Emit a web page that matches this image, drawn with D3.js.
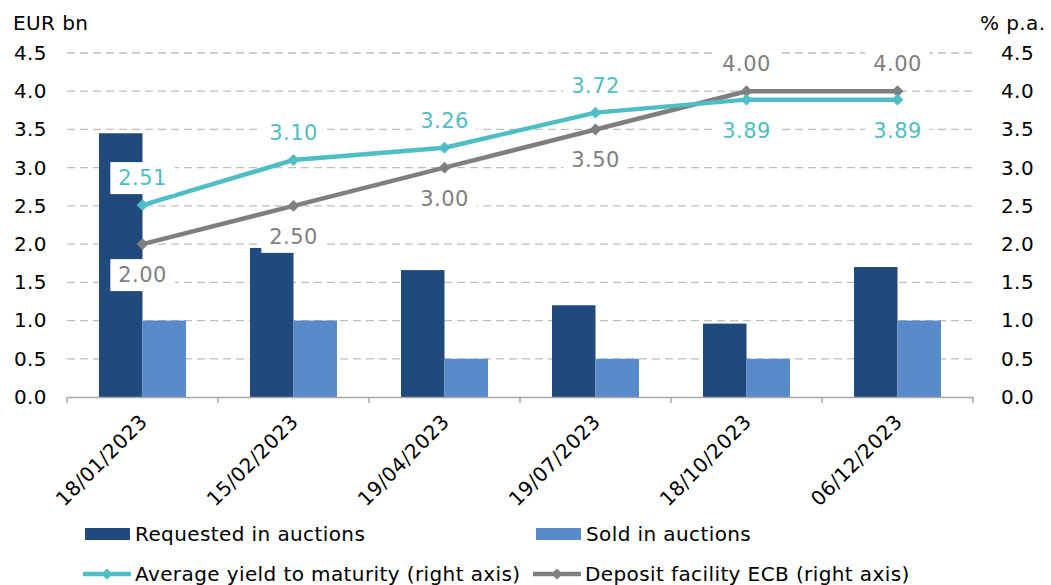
<!DOCTYPE html>
<html>
<head>
<meta charset="utf-8">
<script src="https://cdn.jsdelivr.net/npm/d3@7"></script>
<style>
  body { margin: 0; background: #fff; }
  svg { font-family: Verdana, "DejaVu Sans", sans-serif; letter-spacing: 0.4px; }
</style>
</head>
<body>
<svg id="chart" width="1051" height="585"></svg>
<script>
// data
const dates = ['18/01/2023', '15/02/2023', '19/04/2023', '19/07/2023', '18/10/2023', '06/12/2023'];
const requested = [3.45, 1.95, 1.66, 1.20, 0.96, 1.70];
const sold = [1.0, 1.0, 0.5, 0.5, 0.5, 1.0];
const avgYield = [2.51, 3.10, 3.26, 3.72, 3.89, 3.89];
const depositRate = [2.00, 2.50, 3.00, 3.50, 4.00, 4.00];
const yTicks = [0, 0.5, 1, 1.5, 2, 2.5, 3, 3.5, 4, 4.5];

const colReq = '#214a7c';
const colSold = '#598bca';
const colYield = '#4fbdc4';
const colDep = '#7f7f7f';
const fs = 20;

const svg = d3.select('#chart');
const plotL = 67, plotR = 973, plotT = 53, plotB = 397;

const x = d3.scaleBand().domain(dates).range([plotL, plotR]).padding(0);
const yL = d3.scaleLinear().domain([0, 4.5]).range([plotB, plotT]);
const yR = d3.scaleLinear().domain([0, 4.5]).range([plotB, plotT]);

const barW = x.bandwidth() * 0.288;
const cx = (d) => x(d) + x.bandwidth() / 2;

// gridlines
svg.append('g')
    .selectAll('line')
    .data(yTicks.filter((t) => t > 0))
    .enter()
    .append('line')
    .attr('x1', plotL)
    .attr('x2', plotR)
    .attr('y1', (d) => yL(d))
    .attr('y2', (d) => yL(d))
    .attr('stroke', '#bfbfbf')
    .attr('stroke-width', 1.3)
    .attr('stroke-dasharray', '8,5');

// bars
const bars = svg.append('g');
bars.selectAll('.req')
    .data(dates)
    .enter()
    .append('rect')
    .attr('x', (d) => cx(d) - barW)
    .attr('width', barW)
    .attr('y', (d, i) => yL(requested[i]))
    .attr('height', (d, i) => plotB - yL(requested[i]))
    .attr('fill', colReq);
bars.selectAll('.sold')
    .data(dates)
    .enter()
    .append('rect')
    .attr('x', (d) => cx(d))
    .attr('width', barW)
    .attr('y', (d, i) => yL(sold[i]))
    .attr('height', (d, i) => plotB - yL(sold[i]))
    .attr('fill', colSold);

// x axis line + ticks
const xAxis = svg.append('g').attr('transform', `translate(0, ${plotB})`)
    .call(d3.axisBottom(x).tickSize(0).tickFormat(''));
xAxis.select('.domain').attr('stroke', '#a6a6a6').attr('stroke-width', 1.5);
svg.append('g')
    .selectAll('line')
    .data(d3.range(dates.length + 1))
    .enter()
    .append('line')
    .attr('x1', (i) => plotL + i * x.step())
    .attr('x2', (i) => plotL + i * x.step())
    .attr('y1', plotB)
    .attr('y2', plotB + 6)
    .attr('stroke', '#a6a6a6')
    .attr('stroke-width', 1.5);

// x labels
svg.append('g')
    .selectAll('text')
    .data(dates)
    .enter()
    .append('text')
    .attr('transform', (d) => `translate(${cx(d) + 6}, ${plotB + 26}) rotate(-45)`)
    .attr('text-anchor', 'end')
    .attr('font-size', fs)
    .attr('fill', '#000')
    .text((d) => d);

// y axes
const axL = svg.append('g').attr('transform', `translate(${plotL}, 0)`)
    .call(d3.axisLeft(yL).tickValues(yTicks).tickFormat(d3.format('.1f')).tickSize(0).tickPadding(20));
const axR = svg.append('g').attr('transform', `translate(${plotR}, 0)`)
    .call(d3.axisRight(yR).tickValues(yTicks).tickFormat(d3.format('.1f')).tickSize(0).tickPadding(28));
[axL, axR].forEach((ax) => {
    ax.select('.domain').remove();
    ax.selectAll('text').attr('font-size', fs).attr('fill', '#000')
        .style('font-family', 'Verdana, "DejaVu Sans", sans-serif');
});

svg.append('text').attr('x', 13).attr('y', 30).attr('font-size', fs).text('EUR bn');
svg.append('text').attr('x', 980).attr('y', 30).attr('font-size', fs).text('% p.a.');

// lines
const line = d3.line().x((d) => d[0]).y((d) => d[1]);
function drawSeries(values, color) {
    const pts = dates.map((d, i) => [cx(d), yR(values[i])]);
    svg.append('path')
        .attr('d', line(pts))
        .attr('fill', 'none')
        .attr('stroke', color)
        .attr('stroke-width', 4.5)
        .attr('stroke-linejoin', 'round');
    svg.append('g')
        .selectAll('path')
        .data(pts)
        .enter()
        .append('path')
        .attr('d', d3.symbol().type(d3.symbolDiamond2).size(90))
        .attr('transform', (p) => `translate(${p[0]}, ${p[1]})`)
        .attr('fill', color);
}
drawSeries(depositRate, colDep);
drawSeries(avgYield, colYield);

// data labels with white boxes
function drawLabels(values, color, where) {
    const g = svg.append('g');
    dates.forEach((d, i) => {
        const px = cx(d);
        const py = yR(values[i]) + (where[i] === 'above' ? -27 : 31);
        const lg = g.append('g');
        const t = lg.append('text')
            .attr('x', px)
            .attr('y', py)
            .attr('text-anchor', 'middle')
            .attr('dominant-baseline', 'central')
            .attr('font-size', fs + 1)
            .attr('fill', color)
            .text(values[i].toFixed(2));
        const bb = t.node().getBBox();
        lg.insert('rect', 'text')
            .attr('x', bb.x - 8)
            .attr('y', py - 16)
            .attr('width', bb.width + 16)
            .attr('height', 32)
            .attr('fill', '#fff');
    });
}
drawLabels(avgYield, colYield, ['above', 'above', 'above', 'above', 'below', 'below']);
drawLabels(depositRate, colDep, ['below', 'below', 'below', 'below', 'above', 'above']);

// legend
const legend = svg.append('g');
const items = [
    { name: 'Requested in auctions', color: colReq, type: 'bar', x: 85, y: 534 },
    { name: 'Sold in auctions', color: colSold, type: 'bar', x: 536, y: 534 },
    { name: 'Average yield to maturity (right axis)', color: colYield, type: 'line', x: 83, y: 574 },
    { name: 'Deposit facility ECB (right axis)', color: colDep, type: 'line', x: 533, y: 574 }
];
items.forEach((it) => {
    if (it.type === 'bar') {
        legend.append('rect').attr('x', it.x).attr('y', it.y - 6).attr('width', 45).attr('height', 12).attr('fill', it.color);
    } else {
        legend.append('line').attr('x1', it.x).attr('x2', it.x + 48).attr('y1', it.y).attr('y2', it.y)
            .attr('stroke', it.color).attr('stroke-width', 4.5);
        legend.append('path').attr('d', d3.symbol().type(d3.symbolDiamond2).size(80))
            .attr('transform', `translate(${it.x + 24}, ${it.y})`).attr('fill', it.color);
    }
    legend.append('text')
        .attr('x', it.x + (it.type === 'bar' ? 50 : 52))
        .attr('y', it.y)
        .attr('dominant-baseline', 'central')
        .attr('font-size', fs)
        .text(it.name);
});
</script>
</body>
</html>
